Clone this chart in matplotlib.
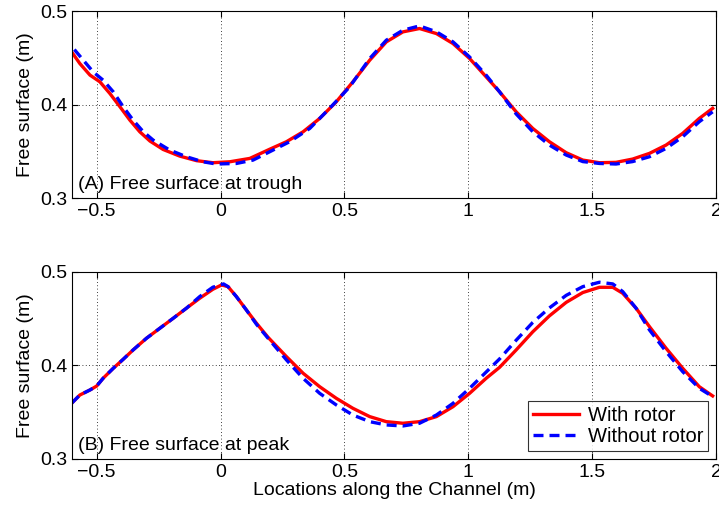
import numpy as np
import matplotlib.pyplot as plt

plt.rcParams['font.family'] = ['Liberation Sans', 'DejaVu Sans']

# (A) free surface at trough
xa_rotor = [-0.601, -0.568, -0.527, -0.487, -0.447, -0.406, -0.366, -0.326, -0.285, -0.232,
            -0.165, -0.097, -0.031, 0.037, 0.118, 0.198, 0.266, 0.333, 0.400, 0.467,
            0.534, 0.602, 0.669, 0.736, 0.803, 0.871, 0.938, 1.005, 1.072, 1.126,
            1.193, 1.260, 1.327, 1.395, 1.462, 1.529, 1.596, 1.663, 1.731, 1.798,
            1.865, 1.932, 1.986]
a_rotor = [0.4565, 0.444, 0.4316, 0.4244, 0.412, 0.3977, 0.3834, 0.3709, 0.361, 0.352,
           0.3449, 0.340, 0.3378, 0.3388, 0.3424, 0.3522, 0.3603, 0.3709, 0.3852, 0.403,
           0.4244, 0.4476, 0.4672, 0.4779, 0.4815, 0.4761, 0.4654, 0.4494, 0.4297, 0.4137,
           0.3923, 0.3745, 0.3603, 0.3485, 0.3406, 0.3378, 0.3382, 0.3417, 0.3478, 0.3567,
           0.3692, 0.3852, 0.396]
xa_norotor = [-0.590, -0.554, -0.514, -0.474, -0.433, -0.393, -0.353, -0.312, -0.272, -0.205,
              -0.138, -0.071, -0.017, 0.064, 0.131, 0.198, 0.279, 0.360, 0.440, 0.521,
              0.602, 0.669, 0.736, 0.803, 0.871, 0.938, 1.005, 1.072, 1.126,
              1.193, 1.260, 1.327, 1.395, 1.462, 1.529, 1.596, 1.663, 1.731, 1.798,
              1.865, 1.932, 1.986]
a_norotor = [0.459, 0.4476, 0.435, 0.4262, 0.4137, 0.3977, 0.3834, 0.371, 0.362, 0.3513,
             0.3442, 0.3388, 0.3364, 0.337, 0.3406, 0.3495, 0.3603, 0.3745, 0.396, 0.419,
             0.4494, 0.469, 0.4797, 0.4843, 0.478, 0.4672, 0.451, 0.4315, 0.4137,
             0.390, 0.371, 0.3567, 0.346, 0.339, 0.337, 0.3364, 0.339, 0.3442, 0.3531,
             0.3656, 0.3817, 0.3923]

# (B) free surface at peak
xb_rotor = [-0.601, -0.568, -0.527, -0.500, -0.474, -0.433, -0.393, -0.353, -0.299, -0.245,
            -0.191, -0.138, -0.084, -0.031, 0.004, 0.030, 0.064, 0.104, 0.145, 0.192,
            0.266, 0.333, 0.400, 0.467, 0.534, 0.602, 0.669, 0.736, 0.803, 0.871,
            0.938, 1.005, 1.072, 1.126, 1.193, 1.260, 1.327, 1.395, 1.462, 1.529,
            1.583, 1.623, 1.677, 1.731, 1.798, 1.865, 1.932, 1.986]
b_rotor = [0.3596, 0.3684, 0.3738, 0.378, 0.3863, 0.397, 0.4066, 0.4166, 0.4291, 0.4398,
           0.4505, 0.4612, 0.4719, 0.4815, 0.4861, 0.4843, 0.4736, 0.4594, 0.4451, 0.4300,
           0.4094, 0.3917, 0.3773, 0.3649, 0.3542, 0.3453, 0.3399, 0.3382, 0.3399, 0.3453,
           0.3559, 0.3702, 0.3863, 0.398, 0.4166, 0.436, 0.453, 0.4675, 0.478, 0.4836,
           0.4836, 0.4772, 0.4612, 0.4415, 0.4184, 0.397, 0.3773, 0.3674]
xb_norotor = [-0.601, -0.568, -0.527, -0.500, -0.474, -0.433, -0.393, -0.353, -0.299, -0.245,
              -0.191, -0.138, -0.084, -0.031, 0.012, 0.030, 0.064, 0.104, 0.145, 0.192,
              0.266, 0.333, 0.400, 0.467, 0.534, 0.602, 0.669, 0.736, 0.803, 0.871,
              0.938, 1.005, 1.072, 1.126, 1.193, 1.260, 1.327, 1.395, 1.462, 1.529,
              1.583, 1.623, 1.677, 1.731, 1.798, 1.865, 1.932, 1.986]
b_norotor = [0.3596, 0.3684, 0.3738, 0.378, 0.3863, 0.397, 0.4066, 0.4166, 0.4291, 0.4398,
             0.4505, 0.4612, 0.4737, 0.4837, 0.4872, 0.4843, 0.4736, 0.4594, 0.4440, 0.4290,
             0.4059, 0.3863, 0.3702, 0.3578, 0.347, 0.3399, 0.3364, 0.3353, 0.3382, 0.347,
             0.3595, 0.3756, 0.3930, 0.407, 0.4270, 0.4460, 0.4615, 0.4750, 0.4843, 0.489,
             0.4872, 0.479, 0.4612, 0.438, 0.4148, 0.3934, 0.3756, 0.3667]

xticks = [-0.5, 0, 0.5, 1, 1.5, 2]
xtick_labels = ['\u22120.5', '0', '0.5', '1', '1.5', '2']
yticks = [0.3, 0.4, 0.5]

fig = plt.figure(figsize=(7.19, 5.11), dpi=100)
ax1 = fig.add_axes([0.100, 0.6125, 0.896, 0.3655])
ax2 = fig.add_axes([0.100, 0.1018, 0.896, 0.3660])

panels = [(ax1, xa_rotor, a_rotor, xa_norotor, a_norotor, '(A) Free surface at trough'),
          (ax2, xb_rotor, b_rotor, xb_norotor, b_norotor, '(B) Free surface at peak')]

for ax, xr, r, xn, nr, label in panels:
    ax.plot(xr, r, color='red', lw=2.4, label='With rotor', solid_joinstyle='round')
    ax.plot(xn, nr, color='blue', lw=2.4, ls=(0, (3, 1.8)), label='Without rotor')
    ax.set_xlim(-0.6, 2)
    ax.set_ylim(0.3, 0.5)
    ax.set_xticks(xticks)
    ax.set_xticklabels(xtick_labels)
    ax.set_yticks(yticks)
    ax.grid(True, color='black', ls=(0, (1, 3)), lw=0.6)
    ax.tick_params(direction='in', top=True, right=True, labelsize=14, length=4)
    ax.set_ylabel('Free surface (m)', fontsize=14)
    ax.text(0.01, 0.025, label, transform=ax.transAxes, fontsize=14, va='bottom', ha='left')
    for s in ax.spines.values():
        s.set_linewidth(0.8)

ax2.set_xlabel('Locations along the Channel (m)', fontsize=14, labelpad=1)
leg = ax2.legend(loc='lower right', fontsize=14.5, frameon=True, fancybox=False,
                 edgecolor='black', handlelength=2.3, borderpad=0.25, labelspacing=0.1,
                 handletextpad=0.4, borderaxespad=0.4)
leg.get_frame().set_linewidth(0.8)

fig.savefig('out.png', dpi=100)
